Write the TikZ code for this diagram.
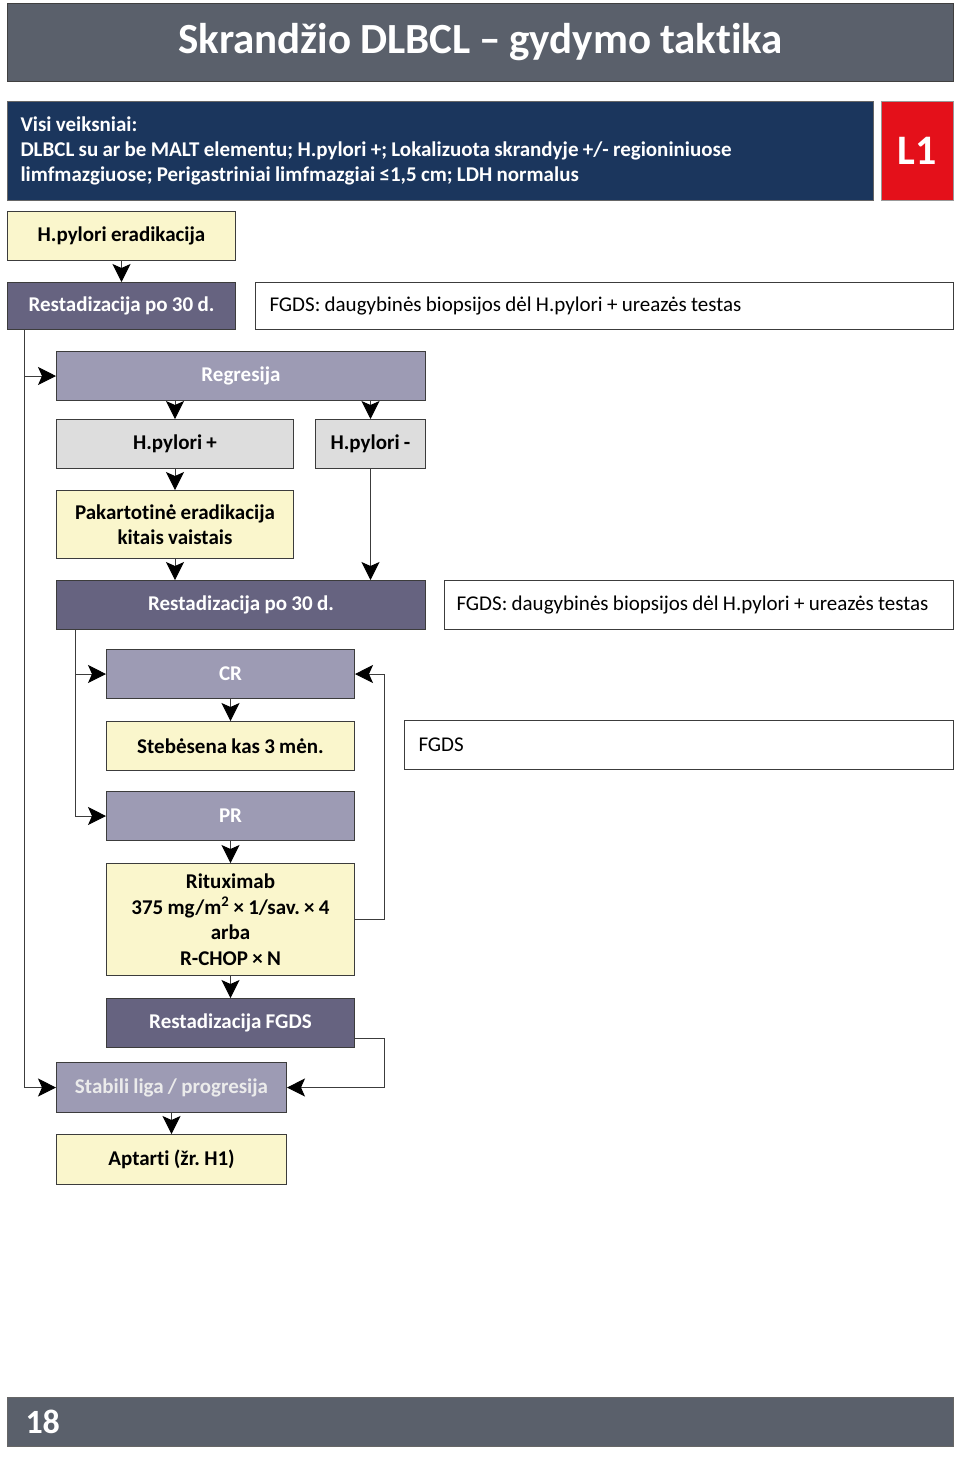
\documentclass[tikz,border=0pt]{standalone}
\usepackage{fontspec}
\setmainfont{Carlito}[Ligatures=NoCommon, WordSpace=0.9]
\frenchspacing
\usetikzlibrary{arrows.meta, positioning}

\definecolor{titlegray}{RGB}{90,96,107}
\definecolor{riskblue}{RGB}{27,54,93}
\definecolor{levelred}{RGB}{228,16,26}
\definecolor{paleyellow}{RGB}{250,246,204}
\definecolor{darkpurple}{RGB}{102,99,128}
\definecolor{midpurple}{RGB}{157,155,180}
\definecolor{palegray}{RGB}{221,221,221}
\definecolor{linegray}{RGB}{60,60,60}

\begin{document}
\begin{tikzpicture}[
    x=1pt, y=-1pt,
    box/.style={rectangle, draw=linegray, line width=1pt, align=center, inner sep=2pt, font=\fontsize{21}{25.5}\selectfont\bfseries},
    titlebar/.style={rectangle, draw=black!75, line width=1pt, fill=titlegray, text=white, font=\fontsize{43}{50}\selectfont\bfseries},
    riskbox/.style={rectangle, draw=black!60, line width=1pt, fill=riskblue, text=white, align=flush left, inner xsep=13pt, font=\fontsize{21}{25}\selectfont\bfseries},
    levelbox/.style={rectangle, draw=black!40, line width=1pt, fill=levelred, text=white, font=\fontsize{42}{48}\selectfont\bfseries},
    yellowbox/.style={box, fill=paleyellow},
    darkbox/.style={box, fill=darkpurple, text=white},
    midbox/.style={box, fill=midpurple, text=white},
    graybox/.style={box, fill=palegray},
    notebox/.style={rectangle, draw=linegray, line width=1pt, fill=white, align=flush left, inner xsep=14pt, font=\fontsize{21}{25}\selectfont},
    colbox/.style={minimum width=248pt, minimum height=49pt},
    footbar/.style={rectangle, draw=black!60, line width=1pt, fill=titlegray, text=white, align=flush left, inner xsep=18pt, font=\fontsize{34}{40}\selectfont\bfseries},
    arrow/.style={-{Stealth[length=18pt, width=18pt, inset=4pt, black]}, draw=linegray, line width=1pt}
]
\useasboundingbox (0,0) rectangle (960,1459);

% Header
\node[titlebar, minimum width=946pt, minimum height=78pt, anchor=north west] (title) at (7,3) {Skrandžio DLBCL – gydymo taktika};
\node[riskbox, minimum width=866pt, minimum height=99pt, text width=840pt, anchor=north west] (risk) at (7,101) {Visi veiksniai:\\DLBCL su ar be MALT elementu; H.pylori +; Lokalizuota skrandyje +/- regioniniuose\\limfmazgiuose; Perigastriniai limfmazgiai ≤1,5 cm; LDH normalus};
\node[levelbox, minimum width=72pt, minimum height=99pt, anchor=north west] (level) at (881,101) {L1};

% First restaging
\node[yellowbox, minimum width=228pt, minimum height=49pt, anchor=north west] (erad) at (7,211) {H.pylori eradikacija};
\node[darkbox, minimum width=228pt, minimum height=47pt, anchor=north west] (rest1) at (7,282) {Restadizacija po 30 d.};
\node[notebox, minimum width=698pt, minimum height=47pt, text width=670pt, anchor=north west] (fgds1) at (255,282) {FGDS: daugybinės biopsijos dėl H.pylori + ureazės testas};

% Regression branch
\node[midbox, minimum width=369pt, minimum height=49pt, anchor=north west] (regr) at (56,351) {Regresija};
\node[graybox, minimum width=237pt, minimum height=49pt, anchor=north west] (hpp) at (56,419) {H.pylori +};
\node[graybox, minimum width=110pt, minimum height=49pt, anchor=north west] (hpm) at (315,419) {H.pylori -};
\node[yellowbox, minimum width=237pt, minimum height=68pt, anchor=north west] (pak) at (56,490) {Pakartotinė eradikacija\\kitais vaistais};
\node[darkbox, minimum width=369pt, minimum height=49pt, anchor=north west] (rest2) at (56,580) {Restadizacija po 30 d.};
\node[notebox, minimum width=509pt, minimum height=49pt, text width=485pt, inner xsep=12pt, anchor=north west] (fgds2) at (444,580) {FGDS: daugybinės biopsijos dėl H.pylori + ureazės testas};

% CR / PR column
\node[midbox, colbox, anchor=north west] (cr) at (106,649) {CR};
\node[yellowbox, colbox, below=22pt of cr] (steb) {Stebėsena kas 3 mėn.};
\node[notebox, minimum width=549pt, minimum height=49pt, text width=521pt, anchor=north west] (fgds3) at (404,720) {FGDS};
\node[midbox, colbox, below=20pt of steb] (pr) {PR};
\node[yellowbox, colbox, minimum height=112pt, below=22pt of pr] (ritux) {Rituximab\\375 mg/m\textsuperscript{2} × 1/sav. × 4\\arba\\R-CHOP × N};
\node[darkbox, colbox, below=22pt of ritux] (rfgds) {Restadizacija FGDS};

% Stable / progression
\node[midbox, minimum width=230pt, minimum height=50pt, text=white!92!black, anchor=north west] (stab) at (56,1062) {Stabili liga / progresija};
\node[yellowbox, minimum width=230pt, minimum height=50pt, below=21pt of stab] (apt) {Aptarti (žr. H1)};

% Footer
\node[footbar, minimum width=946pt, minimum height=49pt, text width=910pt, anchor=north west] (foot) at (7,1397) {18};

% Arrows
\draw[arrow] (erad) -- (rest1);
\draw[arrow] ([xshift=17pt]rest1.south west) |- (regr);
\draw[arrow] ([xshift=17pt]rest1.south west) |- (stab);
\draw[arrow] (regr.south -| hpp) -- (hpp);
\draw[arrow] (regr.south -| hpm) -- (hpm);
\draw[arrow] (hpp) -- (pak);
\draw[arrow] (pak) -- (rest2.north -| pak);
\draw[arrow] (hpm) -- (rest2.north -| hpm);
\draw[arrow] ([xshift=19pt]rest2.south west) |- (cr);
\draw[arrow] ([xshift=19pt]rest2.south west) |- (pr);
\draw[arrow] (cr) -- (steb);
\draw[arrow] (pr) -- (ritux);
\draw[arrow] (ritux) -- (rfgds);
\draw[arrow] (ritux.east) -- ++(29,0) |- (cr);
\draw[arrow] ([yshift=-15pt]rfgds.east) -- ++(29,0) |- (stab);
\draw[arrow] (stab) -- (apt);

\end{tikzpicture}
\end{document}
